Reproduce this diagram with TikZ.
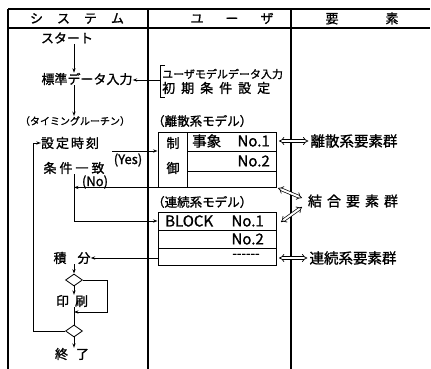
\documentclass[tikz,border=0pt]{standalone}
\usepackage{fontspec}
\setmainfont{Noto Sans CJK JP}[FakeBold=1.2]
\usetikzlibrary{arrows.meta,shapes.geometric,calc}
\newcommand{\gp}[1]{\hspace{#1pt}}
\begin{document}
\begin{tikzpicture}[x=1pt,y=-1pt,
  lbl/.style={inner sep=0pt, font=\fontsize{13}{14}\selectfont},
  sm/.style={inner sep=0pt, font=\fontsize{11}{12}\selectfont},
  big/.style={inner sep=0pt, font=\fontsize{14.5}{15}\selectfont},
  lat/.style={inner sep=0pt, font=\fontsize{15}{16}\selectfont},
  frame/.style={line width=1.1pt},
  ln/.style={line width=0.8pt},
  arr/.style={ln, -{Stealth[length=4.5pt,width=3.2pt]}},
  darr/.style={double, double distance=2pt, line width=0.7pt, {Implies}-{Implies}},
  dia/.style={diamond, draw, line width=0.8pt, minimum width=17pt, minimum height=12pt, inner sep=0pt},
  box/.style={draw, line width=0.9pt, inner sep=0pt},
]
\useasboundingbox (0,0) rectangle (431,369);
% frame
\draw[frame] (8,9) -- (430,9);
\draw[frame] (8,28) -- (430,28);
\draw[frame] (8,9) -- (8,369);
\draw[frame] (148,9) -- (148,369);
\draw[frame] (291,9) -- (291,369);
% header
\node[lbl] (h1) at (77,18.5) {シ\gp{14}ス\gp{14}テ\gp{14}ム};
\node[lbl] (h2) at (232,18.5) {ユ\gp{22}ー\gp{22}ザ};
\node[lbl] (h3) at (362,18.5) {要\gp{47}素};
% coordinates
\coordinate (fx) at (74,0);
\coordinate (lx) at (33,0);
% system column
\node[lbl] (start) at (67,38) {スタート};
\node[lbl] (std) at (87,79) {標準データ入力};
\node[inner sep=0pt, font=\fontsize{10}{11}\selectfont] (timing) at (75,121) {（タイミングルーチン）};
\node[lbl] (setT) at (70,143) {設\gp{2}定\gp{2}時\gp{2}刻};
\node[lbl] (cond) at (74,168) {条\gp{3}件\gp{3}一\gp{3}致};
\node[lbl] (yes) at (128,160) {(Yes)};
\node[lbl] (no) at (95,182) {(No)};
\node[lbl] (integ) at (72,258) {積\gp{11}分};
\node[dia] (d1) at (74,280) {};
\node[lbl] (print) at (72,301) {印\gp{6}刷};
\node[dia] (d2) at (74,331) {};
\node[lbl] (fin) at (72,354) {終\gp{8}了};
% user column
\node[sm, anchor=west] (usr1) at (162,74) {ユーザモデルデータ入力};
\node[lbl, anchor=west] (usr2) at (162,88) {初\gp{6}期\gp{6}条\gp{6}件\gp{6}設\gp{6}定};
\draw[ln] (165,65) -- (160,65) -- (160,97) -- (165,97);
\coordinate (brk) at (160,80);
\node[inner sep=0pt, font=\fontsize{12.5}{13}\selectfont, anchor=west] (dlab) at (152,121) {（離散系モデル）};
\node[inner sep=0pt, font=\fontsize{12.5}{13}\selectfont, anchor=west] (clab) at (152,202) {（連続系モデル）};
% discrete box
\node[box, minimum width=118pt, minimum height=55pt] (disc) at (217,159.5) {};
\draw[ln] (187,132) -- (187,187);
\draw[ln] (187,151) -- (276,151);
\draw[ln] (187,171) -- (276,171);
\node[lbl] (sei) at (173,143) {制};
\node[lbl] (gyo) at (173,168) {御};
\node[big, anchor=west] (ev) at (192,141) {事象};
\node[lat, anchor=east] (n1) at (270,141) {No.1};
\node[lat, anchor=east] (n2) at (270,161) {No.2};
% continuous box
\node[box, minimum width=118pt, minimum height=53pt] (blk) at (217,238.5) {};
\draw[ln] (158,230) -- (276,230);
\draw[ln] (158,248) -- (276,248);
\node[lat, anchor=west] (bl) at (165,221) {BLOCK};
\node[lat, anchor=east] (bn1) at (264,221) {No.1};
\node[lat, anchor=east] (bn2) at (264,239) {No.2};
\node[lbl] (dots) at (246,256) {-{}-{}-{}-{}-{}-};
% element column
\node[inner sep=0pt, font=\fontsize{14.5}{16}\selectfont] (dgrp) at (354,141) {離散系要素群};
\node[inner sep=0pt, font=\fontsize{14}{15}\selectfont] (kgrp) at (353,201) {結\gp{5}合\gp{5}要\gp{5}素\gp{5}群};
\node[inner sep=0pt, font=\fontsize{14.5}{16}\selectfont] (cgrp) at (353,258) {連続系要素群};
\draw[darr] (279,141) -- ([xshift=-2pt]dgrp.west);
\draw[darr] (278,188) -- (302,198);
\draw[darr] (281,222) -- (302,207);
\draw[darr] (279,258) -- ([xshift=-2pt]cgrp.west);
% connectors
\draw[arr] (start.south -| fx) -- (std.north -| fx);
\draw[arr] (brk) -- (std.east |- brk);
\draw[arr] (std.south -| fx) -- (timing.north -| fx);
\coordinate (ys) at (112,151);
\draw[arr] (ys) -- (ys -| disc.west);
\draw[arr] (disc.south west) -- (disc.south west -| fx);
\draw[arr] (cond.south -| fx) |- (blk.west |- bl);
\draw[arr] (blk.west |- integ) -- (integ.east);
\draw[arr] (integ.south -| fx) -- (d1.north);
\draw[arr] (d1.south) -- (print.north -| d1);
\coordinate (lp) at (107,312);
\draw[arr] (d1.east) -| (lp) -- (lp -| fx);
\draw[ln] (print.south -| d2) -- (d2.north);
\draw[arr] (d2.west) -- (d2.west -| lx) -- (lx |- setT) -- (setT.west);
\draw[arr] (d2.south) -- (fin.north -| d2);
\end{tikzpicture}
\end{document}
